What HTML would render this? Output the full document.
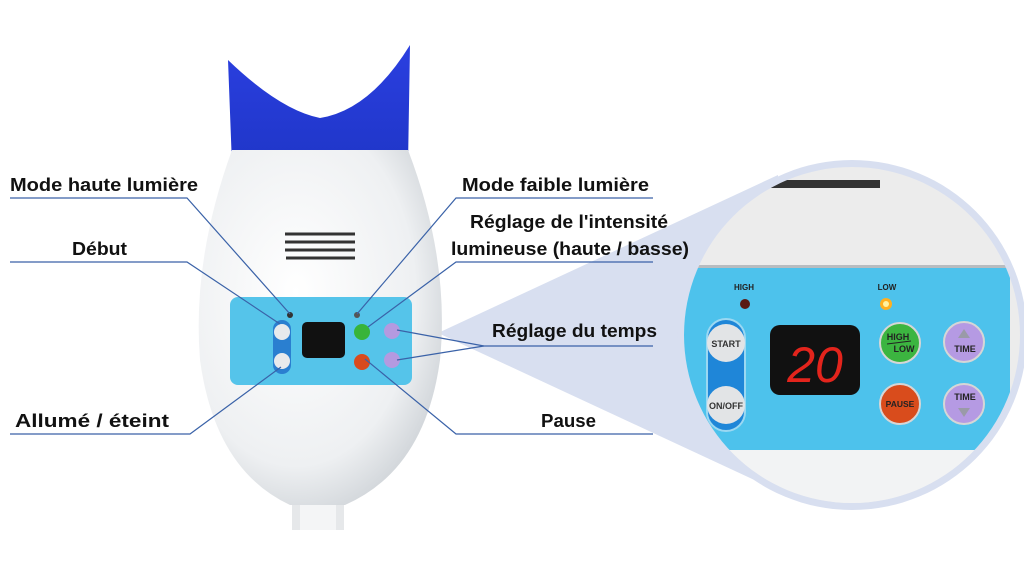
<!DOCTYPE html>
<html><head><meta charset="utf-8"><style>
html,body{margin:0;padding:0;background:#fff;}
svg{display:block;}
text{font-family:"Liberation Sans","DejaVu Sans",sans-serif;}
.lb{font-weight:bold;font-size:18px;fill:#111;}
</style></head><body>
<svg width="1024" height="569" viewBox="0 0 1024 569" xmlns="http://www.w3.org/2000/svg">
<defs>
<radialGradient id="body" cx="0.4" cy="0.4" r="0.7">
<stop offset="0" stop-color="#ffffff"/><stop offset="0.7" stop-color="#eef0f2"/><stop offset="1" stop-color="#c9ced3"/>
</radialGradient>
<linearGradient id="cup" x1="0" y1="0" x2="0" y2="1">
<stop offset="0" stop-color="#2b3fe0"/><stop offset="1" stop-color="#1f36c8"/>
</linearGradient>
<clipPath id="cc"><circle cx="852" cy="335" r="168"/></clipPath>
</defs>
<!-- cone -->
<polygon points="438,333 778,175 778,491" fill="#d8dff0"/>
<!-- stem -->
<rect x="292" y="470" width="52" height="60" fill="#e6e8ea"/>
<rect x="300" y="470" width="36" height="60" fill="#f4f5f6"/>
<!-- cup -->
<path d="M228,60 Q280,110 320,118 Q370,110 410,45 L408,165 L232,165 Z" fill="url(#cup)"/>
<!-- body -->
<path d="M232,150 L408,150 Q450,260 440,360 Q425,470 345,505 L290,505 Q215,470 200,360 Q192,260 232,150 Z" fill="url(#body)"/>
<!-- vent -->
<g stroke="#333" stroke-width="3">
<line x1="285" y1="234" x2="355" y2="234"/><line x1="285" y1="242" x2="355" y2="242"/>
<line x1="285" y1="250" x2="355" y2="250"/><line x1="286" y1="258" x2="355" y2="258"/>
</g>
<!-- panel -->
<rect x="230" y="297" width="182" height="88" rx="8" fill="#55c4ea"/>
<circle cx="290" cy="315" r="3" fill="#333"/><circle cx="357" cy="315" r="3" fill="#555"/>
<rect x="273" y="320" width="18" height="54" rx="9" fill="#2a7fd0"/>
<circle cx="282" cy="332" r="8" fill="#e8eaec"/><circle cx="282" cy="361" r="8" fill="#e8eaec"/>
<rect x="302" y="322" width="43" height="36" rx="5" fill="#111"/>
<circle cx="362" cy="332" r="8" fill="#38b43a"/><circle cx="362" cy="362" r="8" fill="#d94a1e"/>
<circle cx="392" cy="331" r="8" fill="#b49ae0"/><circle cx="392" cy="360" r="8" fill="#b49ae0"/>
<!-- zoom circle -->
<circle cx="852" cy="335" r="175" fill="#d8dff0"/>
<g clip-path="url(#cc)">
<rect x="670" y="160" width="370" height="360" fill="#ececec"/>
<rect x="760" y="180" width="120" height="8" fill="#333"/>
<rect x="670" y="265" width="370" height="4" fill="#b8bcc0"/>
<rect x="670" y="268" width="340" height="182" fill="#4dc2ec"/>
<rect x="670" y="450" width="370" height="70" fill="#f2f3f4"/>
</g>
<text x="744" y="290" font-size="8" font-weight="bold" fill="#222" text-anchor="middle">HIGH</text>
<circle cx="745" cy="304" r="5" fill="#5a1a14"/>
<text x="887" y="290" font-size="8" font-weight="bold" fill="#222" text-anchor="middle">LOW</text>
<circle cx="886" cy="304" r="6" fill="#ffb020"/><circle cx="886" cy="304" r="3" fill="#fff2a0"/>
<rect x="707" y="319" width="38" height="112" rx="19" fill="#1f86d8" stroke="#9bd8f2" stroke-width="2"/>
<circle cx="726" cy="343" r="19" fill="#e2e4e6"/><circle cx="726" cy="405" r="19" fill="#e2e4e6"/>
<text x="726" y="347" font-size="9" font-weight="bold" fill="#333" text-anchor="middle">START</text>
<text x="726" y="409" font-size="9" font-weight="bold" fill="#333" text-anchor="middle">ON/OFF</text>
<rect x="770" y="325" width="90" height="70" rx="10" fill="#111"/>
<text x="815" y="382" font-size="50" font-style="italic" fill="#e3241c" text-anchor="middle" font-family="Liberation Mono">20</text>
<circle cx="900" cy="343" r="20" fill="#3cb540" stroke="#d6d6d6" stroke-width="2"/>
<text x="898" y="340" font-size="9" font-weight="bold" fill="#222" text-anchor="middle">HIGH</text>
<line x1="887" y1="344" x2="911" y2="341" stroke="#222"/>
<text x="904" y="352" font-size="9" font-weight="bold" fill="#222" text-anchor="middle">LOW</text>
<circle cx="900" cy="404" r="20" fill="#d94c1c" stroke="#d6d6d6" stroke-width="2"/>
<text x="900" y="407" font-size="8.5" font-weight="bold" fill="#222" text-anchor="middle">PAUSE</text>
<circle cx="964" cy="342" r="20" fill="#b59ae3" stroke="#d6d6d6" stroke-width="2"/>
<polygon points="964,329 958,338 970,338" fill="#9a9aa8"/>
<text x="965" y="352" font-size="9" font-weight="bold" fill="#222" text-anchor="middle">TIME</text>
<circle cx="964" cy="404" r="20" fill="#b59ae3" stroke="#d6d6d6" stroke-width="2"/>
<text x="965" y="400" font-size="9" font-weight="bold" fill="#222" text-anchor="middle">TIME</text>
<polygon points="964,417 958,408 970,408" fill="#9a9aa8"/>
<!-- leader lines -->
<g stroke="#3a62a8" stroke-width="1.2" fill="none">
<polyline points="10,198 187,198 290,314"/>
<polyline points="10,262 187,262 280,324"/>
<polyline points="10,434 190,434 281,367"/>
<polyline points="653,198 456,198 357,314"/>
<polyline points="653,262 456,262 368,327"/>
<polyline points="653,346 484,346 397,330"/>
<line x1="484" y1="346" x2="397" y2="360"/>
<polyline points="653,434 456,434 365,359"/>
</g>
<text class="lb" x="10" y="191" textLength="188" lengthAdjust="spacingAndGlyphs">Mode haute lumière</text>
<text class="lb" x="72" y="255" textLength="55" lengthAdjust="spacingAndGlyphs">Début</text>
<text class="lb" x="15" y="427" textLength="154" lengthAdjust="spacingAndGlyphs">Allumé / éteint</text>
<text class="lb" x="462" y="191" textLength="187" lengthAdjust="spacingAndGlyphs">Mode faible lumière</text>
<text class="lb" x="470" y="228" textLength="198" lengthAdjust="spacingAndGlyphs">Réglage de l'intensité</text>
<text class="lb" x="451" y="255" textLength="238" lengthAdjust="spacingAndGlyphs">lumineuse (haute / basse)</text>
<text class="lb" x="492" y="337" textLength="165" lengthAdjust="spacingAndGlyphs">Réglage du temps</text>
<text class="lb" x="541" y="427" textLength="55" lengthAdjust="spacingAndGlyphs">Pause</text>
</svg>
</body></html>
